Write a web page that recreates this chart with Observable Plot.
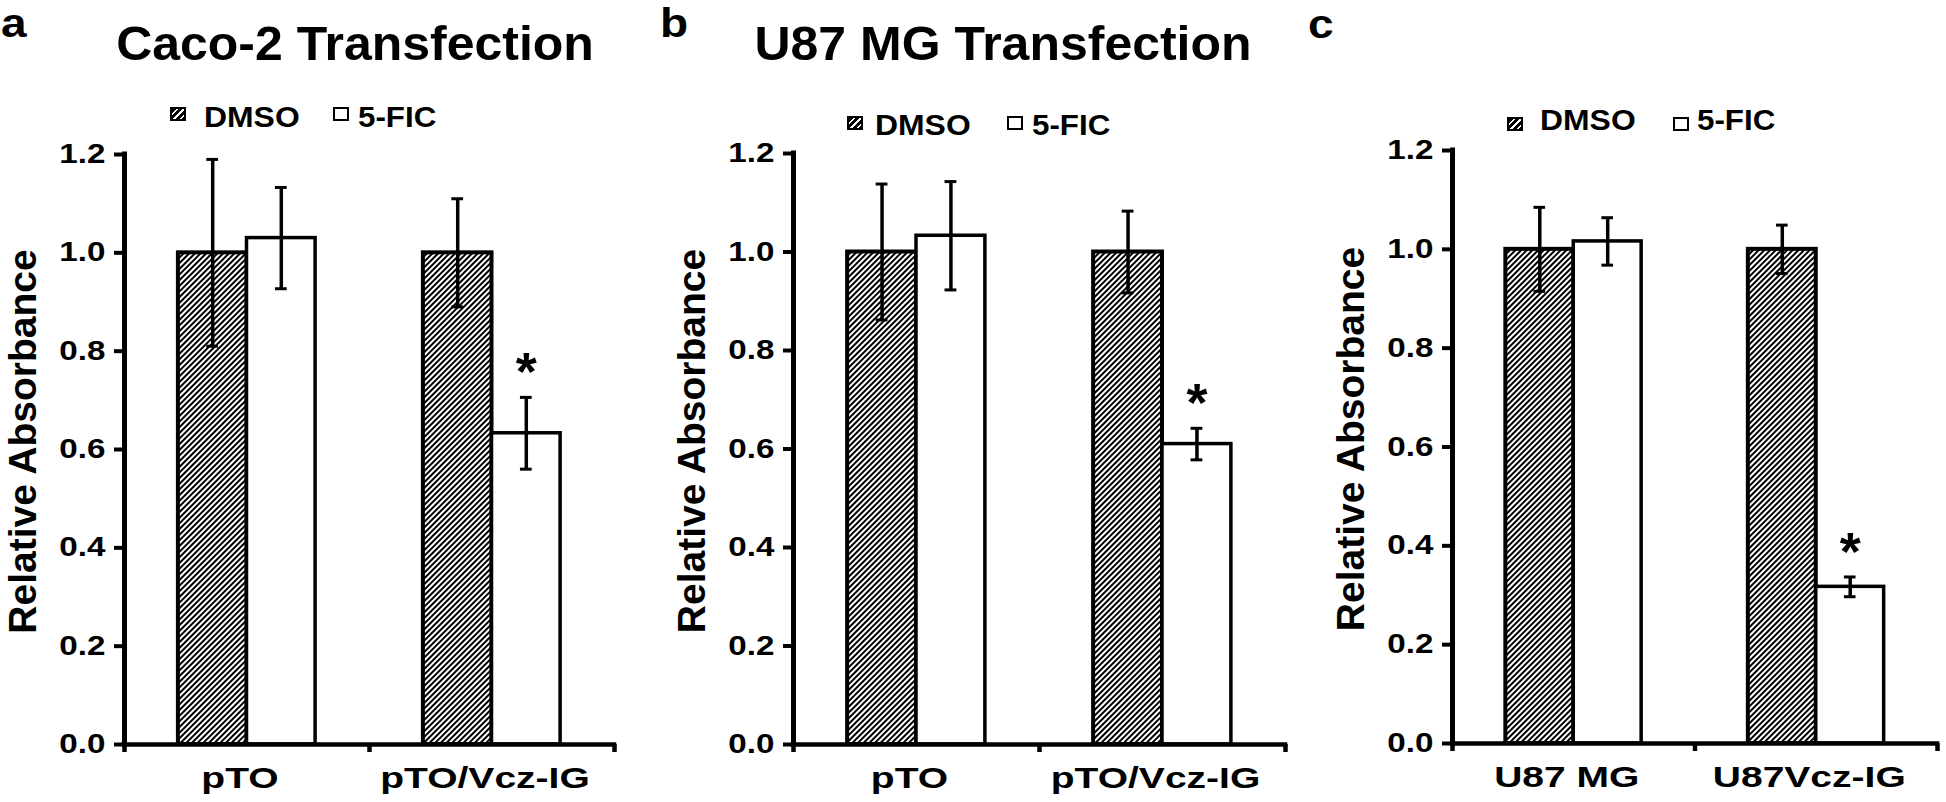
<!DOCTYPE html>
<html>
<head>
<meta charset="utf-8">
<script src="https://cdn.jsdelivr.net/npm/d3@7"></script>
<script src="https://cdn.jsdelivr.net/npm/@observablehq/plot@0.6"></script>
<style>
html, body { margin: 0; padding: 0; background: #fff; }
#fig { position: relative; width: 1946px; height: 802px; overflow: hidden;
  font-family: "Liberation Sans", Arial, Helvetica, sans-serif; font-weight: bold; color: #000; }
.abs { position: absolute; white-space: nowrap; line-height: 1; }
.panel { position: absolute; top: 0; }
.sw { position: absolute; box-sizing: border-box; border: 2px solid #000; width: 16px; height: 14px; }
.sw.hatch { background: repeating-linear-gradient(135deg, #000 0 3px, #fff 3px 4.6px); }
.sw.open { background: #fff; }
</style>
</head>
<body>
<svg width="0" height="0" style="position:absolute">
  <defs>
    <pattern id="hatch" patternUnits="userSpaceOnUse" width="4" height="4" patternTransform="rotate(45)">
      <rect width="4" height="4" fill="#fff"></rect>
      <rect width="2" height="4" fill="#000"></rect>
    </pattern>
  </defs>
</svg>
<div id="fig"></div>
<script>
// ---------------- data ----------------
const panelLetters = ["a", "b", "c"];
const panelTitles = ["Caco-2 Transfection", "U87 MG Transfection", ""];
const seriesNames = ["DMSO", "5-FIC"];
const yTicks = [0, 0.2, 0.4, 0.6, 0.8, 1.0, 1.2];
const yLabel = "Relative Absorbance";

const groupsA = ["pTO", "pTO/Vcz-IG"];
const dmsoA = [1.00, 1.00];
const dmsoErrA = [0.19, 0.11];
const ficA = [1.03, 0.633];
const ficErrA = [0.103, 0.073];
const sigA = [false, true];

const groupsB = ["pTO", "pTO/Vcz-IG"];
const dmsoB = [1.00, 1.00];
const dmsoErrB = [0.138, 0.083];
const ficB = [1.033, 0.61];
const ficErrB = [0.11, 0.032];
const sigB = [false, true];

const groupsC = ["U87 MG", "U87Vcz-IG"];
const dmsoC = [1.00, 1.00];
const dmsoErrC = [0.085, 0.049];
const ficC = [1.016, 0.317];
const ficErrC = [0.048, 0.02];
const sigC = [false, true];

// ---------------- layout (positions / styles) ----------------
const FONT = '"Liberation Sans", Arial, Helvetica, sans-serif';
const TICK_FS = 27, XLAB_FS = 30;
const stretch = {[TICK_FS]: 1.23, [XLAB_FS]: 1.3};
const layout = [
  {left: 0, width: 700, ml: 124, mr: 86, mt: 154, mb: 58,
   title: {cx: 355, base: 60}, letter: {x: 1, base: 37},
   legend: {sw1: 170, t1: 204, sw2: 333, t2: 358, swTop: 107, base: 128}},
  {left: 700, width: 640, ml: 93, mr: 55, mt: 153, mb: 58,
   title: {cx: 1003, base: 60}, letter: {x: 660, base: 37},
   legend: {sw1: 847, t1: 875, sw2: 1007, t2: 1032, swTop: 116, base: 136}},
  {left: 1340, width: 606, ml: 112, mr: 9, mt: 150, mb: 59,
   title: null, letter: {x: 1308, base: 38},
   legend: {sw1: 1507, t1: 1540, sw2: 1673, t2: 1697, swTop: 117, base: 131}}
];

const fig = document.getElementById("fig");

function addText(str, x, base, fs, opts = {}) {
  const el = document.createElement("div");
  el.className = "abs";
  el.textContent = str;
  el.style.fontSize = fs + "px";
  el.style.top = (base - 0.8465 * fs) + "px";
  el.style.left = x + "px";
  const k = opts.k ?? 1;
  if (opts.center) {
    el.style.transform = `translateX(-50%) scaleX(${k})`;
  } else {
    el.style.transformOrigin = "0 0";
    el.style.transform = `scaleX(${k})`;
  }
  fig.appendChild(el);
}
function addSwatch(cls, x, y) {
  const el = document.createElement("div");
  el.className = "sw " + cls;
  el.style.left = x + "px";
  el.style.top = y + "px";
  fig.appendChild(el);
}

function makePanel(groups, dmso, dmsoErr, fic, ficErr, sig, L) {
  const bw = 0.28, cap = 0.024;
  const bars = [];
  groups.forEach((g, i) => {
    bars.push({g, s: seriesNames[0], v: dmso[i], e: dmsoErr[i], x1: i + 0.5 - bw, x2: i + 0.5, sig: false});
    bars.push({g, s: seriesNames[1], v: fic[i], e: ficErr[i], x1: i + 0.5, x2: i + 0.5 + bw, sig: sig[i]});
  });
  const cx = d => (d.x1 + d.x2) / 2;
  const dm = bars.filter(d => d.s === seriesNames[0]);
  const fc = bars.filter(d => d.s === seriesNames[1]);
  return Plot.plot({
    width: L.width, height: 802,
    marginLeft: L.ml, marginRight: L.mr, marginTop: L.mt, marginBottom: L.mb,
    x: {type: "linear", domain: [0, groups.length]},
    y: {domain: [0, 1.2]},
    style: {fontFamily: FONT, fontWeight: "bold", color: "#000", background: "transparent", overflow: "visible"},
    marks: [
      Plot.rectY(dm, {x1: "x1", x2: "x2", y1: 0, y2: "v", fill: "url(#hatch)", stroke: "#000", strokeWidth: 4}),
      Plot.rectY(fc, {x1: "x1", x2: "x2", y1: 0, y2: "v", fill: "#fff", stroke: "#000", strokeWidth: 3.5}),
      Plot.ruleX(bars, {x: cx, y1: d => d.v - d.e, y2: d => d.v + d.e, stroke: "#000", strokeWidth: 3.5}),
      Plot.ruleY(bars, {y: d => d.v + d.e, x1: d => cx(d) - cap, x2: d => cx(d) + cap, stroke: "#000", strokeWidth: 3}),
      Plot.ruleY(bars, {y: d => d.v - d.e, x1: d => cx(d) - cap, x2: d => cx(d) + cap, stroke: "#000", strokeWidth: 3}),
      Plot.text(bars.filter(d => d.sig), {x: cx, y: d => d.v + d.e, text: () => "*", lineAnchor: "bottom",
        textAnchor: "middle", dy: -7, fontSize: 54, fontWeight: "bold", fill: "#000"}),
      Plot.ruleY([0], {stroke: "#000", strokeWidth: 4.5, strokeLinecap: "square"}),
      Plot.ruleX([0], {stroke: "#000", strokeWidth: 5, strokeLinecap: "square"}),
      Plot.axisY({ticks: yTicks, tickFormat: d3.format(".1f"), tickSize: 10, tickPadding: 9,
        strokeWidth: 4, fontSize: TICK_FS, fontWeight: "bold", label: null}),
      Plot.axisX({ticks: d3.range(groups.length + 1), tickFormat: () => "", tickSize: 8,
        strokeWidth: 4.5, label: null}),
      Plot.axisX({ticks: groups.map((g, i) => i + 0.5), tickFormat: t => groups[Math.floor(t)],
        tickSize: 0, tickPadding: 22, dx: -7, fontSize: XLAB_FS, fontWeight: "bold", label: null}),
      Plot.text([yLabel], {text: d => d, frameAnchor: "left", rotate: -90, dx: -89, dy: -8,
        lineAnchor: "bottom", textAnchor: "middle", fontSize: 39, fontWeight: "bold", fill: "#000"})
    ]
  });
}

function stretchTexts(svg) {
  svg.querySelectorAll("text").forEach(t => {
    const fs = Math.round(parseFloat(getComputedStyle(t).fontSize));
    const k = stretch[fs];
    if (!k || !t.textContent) return;
    const len = t.getComputedTextLength();
    t.setAttribute("textLength", (len * k).toFixed(1));
    t.setAttribute("lengthAdjust", "spacingAndGlyphs");
  });
}

const panelData = [
  [groupsA, dmsoA, dmsoErrA, ficA, ficErrA, sigA],
  [groupsB, dmsoB, dmsoErrB, ficB, ficErrB, sigB],
  [groupsC, dmsoC, dmsoErrC, ficC, ficErrC, sigC]
];

panelData.forEach((pd, p) => {
  const L = layout[p];
  const wrap = document.createElement("div");
  wrap.className = "panel";
  wrap.style.left = L.left + "px";
  const svg = makePanel(...pd, L);
  wrap.appendChild(svg);
  fig.appendChild(wrap);
  stretchTexts(svg);

  addText(panelLetters[p], L.letter.x, L.letter.base, 40, {k: 1.15});
  if (L.title && panelTitles[p]) addText(panelTitles[p], L.title.cx, L.title.base, 49, {center: true, k: 1.02});
  addSwatch("hatch", L.legend.sw1, L.legend.swTop);
  addText(seriesNames[0], L.legend.t1, L.legend.base, 29, {k: 1.1});
  addSwatch("open", L.legend.sw2, L.legend.swTop);
  addText(seriesNames[1], L.legend.t2, L.legend.base, 29, {k: 1.08});
});
</script>
</body>
</html>
